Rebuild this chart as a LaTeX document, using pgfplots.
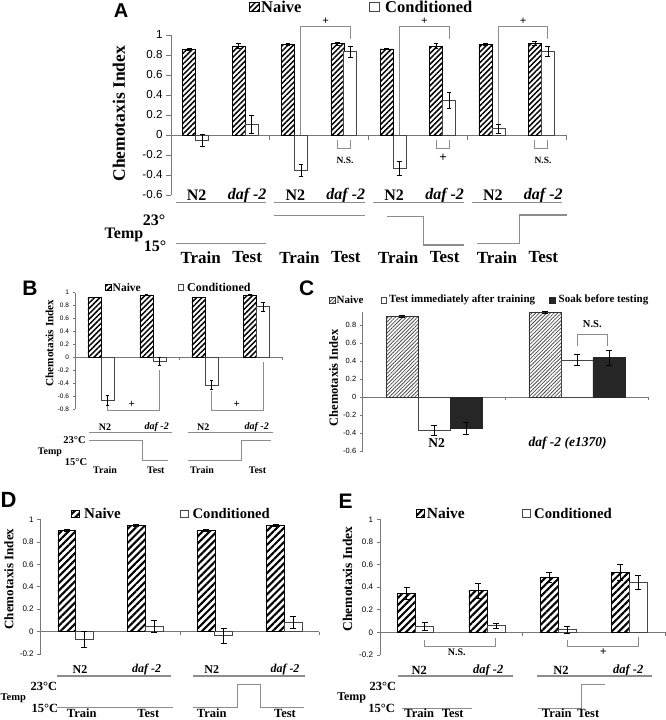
\documentclass[border=0pt]{standalone}
\usepackage{fontspec}
\setmainfont{Liberation Serif}
\setsansfont{Liberation Sans}
\usepackage{pgfplots}
\pgfplotsset{compat=1.18}
\usetikzlibrary{patterns.meta}
\definecolor{axgray}{RGB}{120,120,120}
\definecolor{lngray}{RGB}{140,140,140}
\definecolor{condline}{RGB}{70,70,70}
\definecolor{soakfill}{RGB}{38,38,38}
\newcommand{\fs}[1]{\fontsize{#1}{#1}\selectfont}
\tikzset{
 hA/.style={pattern={Lines[angle=45,distance=3.8pt,line width=1.5pt]},pattern color=black},
 hC/.style={pattern={Lines[angle=45,distance=2.6pt,line width=0.8pt]},pattern color=black!70},
 hD/.style={pattern={Lines[angle=45,distance=5pt,line width=2.1pt]},pattern color=black},
 ln/.style={lngray,line width=1.1pt},
 lab/.style={font=\bfseries\fs{#1}},
 ilab/.style={font=\bfseries\itshape\fs{#1}},
 let/.style={font=\sffamily\bfseries\fs{#1}},
}
\pgfplotsset{
 pan/.style={scale only axis, clip=false, enlargelimits=false,
   axis x line=none, axis y line=left,
   y axis line style={-, draw=axgray, line width=0.9pt},
   ytick style={draw=axgray, line width=0.8pt},
   tick align=outside, major tick length=#1,
   xmin=-0.5, xmax=3.5, xtick=\empty,
   /pgf/number format/assume math mode=true,
   /pgf/number format/fixed, /pgf/number format/precision=1},
 eb/.style={sharp plot, mark=none, draw opacity=0,
   error bars/y dir=both, error bars/y explicit,
   error bars/error bar style={black,draw opacity=1,line width=0.6pt},
   error bars/error mark options={rotate=90,black,draw opacity=1,line width=0.6pt,mark size=#1}},
}
\begin{document}
\begin{tikzpicture}
\useasboundingbox (0pt,0pt) rectangle (666pt,-720pt);

% ================= Panel A =================
\begin{axis}[pan=5pt, at={(171pt,-195pt)}, anchor=south west,
  width=395pt, height=160pt, xmin=-0.5, xmax=7.5, ymin=-0.6, ymax=1,
  ytick={-0.6,-0.4,-0.2,0,0.2,0.4,0.6,0.8,1},
  yticklabel style={font=\sffamily\fs{11.6}}]
\draw[axgray,line width=0.9pt] (axis cs:-0.5,0) -- (axis cs:7.5,0);
\pgfplotsinvokeforeach{1.5,3.5,5.5,7.5}{\draw[axgray,line width=0.8pt] (axis cs:#1,0) -- ++(0pt,-5pt);}
\addplot[ybar, bar width=13pt, bar shift=-6.5pt, draw=black, line width=0.6pt, hA]
 coordinates {(0,0.86) (1,0.89) (2,0.907) (3,0.913) (4,0.862) (5,0.89) (6,0.91) (7,0.915)};
\addplot[ybar, bar width=13pt, bar shift=6.5pt, draw=condline, line width=0.7pt, fill=white]
 coordinates {(0,-0.057) (1,0.11) (2,-0.35) (3,0.833) (4,-0.333) (5,0.35) (6,0.067) (7,0.833)};
\addplot[eb=2.4pt] coordinates {(-0.1316,0.86) +- (0,0.008) (0.8684,0.89) +- (0,0.025) (1.8684,0.907) +- (0,0.01) (2.8684,0.913) +- (0,0.018)
              (3.8684,0.862) +- (0,0.008) (4.8684,0.89) +- (0,0.025) (5.8684,0.91) +- (0,0.01) (6.8684,0.915) +- (0,0.018)};
\addplot[eb=2.4pt] coordinates {(0.1316,-0.057) +- (0,0.06) (1.1316,0.11) +- (0,0.088) (2.1316,-0.35) +- (0,0.062) (3.1316,0.833) +- (0,0.058)
              (4.1316,-0.333) +- (0,0.07) (5.1316,0.35) +- (0,0.082) (6.1316,0.067) +- (0,0.045) (7.1316,0.833) +- (0,0.05)};
\end{axis}

% ================= Panel B =================
\begin{axis}[pan=2.5pt, at={(75pt,-409.3pt)}, anchor=south west,
  width=207.7pt, height=116.8pt, ymin=-0.8, ymax=1,
  ytick={-0.8,-0.6,-0.4,-0.2,0,0.2,0.4,0.6,0.8,1},
  yticklabel style={font=\sffamily\fs{6.5}}]
\draw[axgray,line width=0.8pt] (axis cs:-0.5,0) -- (axis cs:3.5,0);
\pgfplotsinvokeforeach{1.5,3.5}{\draw[axgray,line width=0.7pt] (axis cs:#1,0) -- ++(0pt,-3pt);}
\addplot[ybar, bar width=13pt, bar shift=-6.5pt, draw=black, line width=0.5pt, hA]
 coordinates {(0,0.925) (1,0.962) (2,0.925) (3,0.962)};
\addplot[ybar, bar width=13pt, bar shift=6.5pt, draw=condline, line width=0.6pt, fill=white]
 coordinates {(0,-0.66) (1,-0.062) (2,-0.427) (3,0.78)};
\addplot[eb=1.8pt] coordinates {(-0.1252,0.925) +- (0,0.004) (0.8748,0.962) +- (0,0.004) (1.8748,0.925) +- (0,0.004) (2.8748,0.962) +- (0,0.004)};
\addplot[eb=1.8pt] coordinates {(0.1252,-0.66) +- (0,0.08) (1.1252,-0.062) +- (0,0.06) (2.1252,-0.427) +- (0,0.07) (3.1252,0.78) +- (0,0.07)};
\end{axis}

% ================= Panel C =================
\begin{axis}[pan=3pt, at={(362.7pt,-451pt)}, anchor=south west,
  width=285.6pt, height=139.5pt, xmin=-0.5, xmax=1.5, ymin=-0.6, ymax=0.95,
  ytick={-0.6,-0.4,-0.2,0,0.2,0.4,0.6,0.8},
  yticklabel style={font=\sffamily\fs{7.5}}]
\draw[axgray,line width=0.8pt] (axis cs:-0.5,0) -- (axis cs:1.5,0);
\pgfplotsinvokeforeach{0.5,1.5}{\draw[axgray,line width=0.7pt] (axis cs:#1,0) -- ++(0pt,-3pt);}
\addplot[ybar, bar width=32pt, bar shift=-32pt, draw=black!80, line width=0.6pt, hC]
 coordinates {(0,0.9) (1,0.937)};
\addplot[ybar, bar width=32pt, bar shift=0pt, draw=condline, line width=0.7pt, fill=white]
 coordinates {(0,-0.367) (1,0.411)};
\addplot[ybar, bar width=32pt, bar shift=32pt, draw=soakfill, line width=0.6pt, fill=soakfill]
 coordinates {(0,-0.348) (1,0.437)};
\addplot[eb=2.7pt] coordinates {(-0.2241,0.9) +- (0,0.01) (0.7759,0.937) +- (0,0.01)};
\addplot[eb=2.7pt] coordinates {(0,-0.367) +- (0,0.055) (1,0.411) +- (0,0.063)};
\addplot[eb=2.7pt] coordinates {(0.2241,-0.348) +- (0,0.065) (1.2241,0.437) +- (0,0.083)};
\end{axis}

% ================= Panel D =================
\begin{axis}[pan=3.5pt, at={(40.7pt,-654pt)}, anchor=south west,
  width=278.6pt, height=134.4pt, ymin=-0.2, ymax=1,
  ytick={-0.2,0,0.2,0.4,0.6,0.8,1},
  yticklabel style={font=\sffamily\fs{8}}]
\draw[axgray,line width=0.8pt] (axis cs:-0.5,0) -- (axis cs:3.5,0);
\pgfplotsinvokeforeach{1.5,3.5}{\draw[axgray,line width=0.7pt] (axis cs:#1,0) -- ++(0pt,-3.5pt);}
\addplot[ybar, bar width=17.7pt, bar shift=-8.85pt, draw=black, line width=0.6pt, hD]
 coordinates {(0,0.905) (1,0.95) (2,0.905) (3,0.95)};
\addplot[ybar, bar width=17.7pt, bar shift=8.85pt, draw=condline, line width=0.7pt, fill=white]
 coordinates {(0,-0.068) (1,0.05) (2,-0.033) (3,0.085)};
\addplot[eb=3pt] coordinates {(-0.1271,0.905) +- (0,0.008) (0.8729,0.95) +- (0,0.008) (1.8729,0.905) +- (0,0.008) (2.8729,0.95) +- (0,0.008)};
\addplot[eb=3pt] coordinates {(0.1271,-0.068) +- (0,0.074) (1.1271,0.05) +- (0,0.053) (2.1271,-0.033) +- (0,0.067) (3.1271,0.085) +- (0,0.052)};
\end{axis}

% ================= Panel E =================
\begin{axis}[pan=3.5pt, at={(380pt,-655pt)}, anchor=south west,
  width=285pt, height=135.6pt, ymin=-0.2, ymax=1,
  ytick={-0.2,0,0.2,0.4,0.6,0.8,1},
  yticklabel style={font=\sffamily\fs{8}}]
\draw[axgray,line width=0.8pt] (axis cs:-0.5,0) -- (axis cs:3.5,0);
\pgfplotsinvokeforeach{1.5,3.5}{\draw[axgray,line width=0.7pt] (axis cs:#1,0) -- ++(0pt,-3.5pt);}
\addplot[ybar, bar width=18pt, bar shift=-9pt, draw=black, line width=0.6pt, hD]
 coordinates {(0,0.346) (1,0.37) (2,0.487) (3,0.531)};
\addplot[ybar, bar width=18pt, bar shift=9pt, draw=condline, line width=0.7pt, fill=white]
 coordinates {(0,0.053) (1,0.059) (2,0.023) (3,0.443)};
\addplot[eb=3pt] coordinates {(-0.1263,0.346) +- (0,0.056) (0.8737,0.37) +- (0,0.066) (1.8737,0.487) +- (0,0.045) (2.8737,0.531) +- (0,0.069)};
\addplot[eb=3pt] coordinates {(0.1263,0.053) +- (0,0.033) (1.1263,0.059) +- (0,0.026) (2.1263,0.023) +- (0,0.03) (3.1263,0.443) +- (0,0.062)};
\end{axis}

% ================= Annotations (pixel coordinates) =================
\begin{scope}[x=1pt,y=-1pt]
% ---- A ----
\node[let=20] at (121,10.3) {A};
\draw[black,line width=0.5pt,hA] (249,2) rectangle (259,11.5);
\node[lab=16.5,anchor=west,inner sep=0] at (261,6.6) {Naive};
\draw[condline,line width=0.6pt,fill=white] (369,2) rectangle (379,11.5);
\node[lab=16.5,anchor=west,inner sep=0] at (385,6.6) {Conditioned};
\node[lab=17.5,rotate=90] at (118.8,113.8) {Chemotaxis Index};
% brackets
\draw[ln] (300.9,135) -- (300.9,26.5) -- (350.3,26.5) -- (350.3,39.3);
\draw[ln] (399.7,135) -- (399.7,26.5) -- (449.1,26.5) -- (449.1,39.3);
\draw[ln] (498.4,124) -- (498.4,26.5) -- (547.8,26.5) -- (547.8,39.3);
\node[lab=11.5,inner sep=0] at (325.6,21.3) {+};
\node[lab=11.5,inner sep=0] at (424.4,21.3) {+};
\node[lab=11.5,inner sep=0] at (523.1,21.3) {+};
\draw[ln] (337.3,140) -- (337.3,148.3) -- (350.3,148.3) -- (350.3,140);
\draw[ln] (436.1,140) -- (436.1,148.3) -- (449.1,148.3) -- (449.1,140);
\draw[ln] (534.8,140) -- (534.8,148.3) -- (547.8,148.3) -- (547.8,140);
\node[lab=9.5] at (345,160) {N.S.};
\node[lab=13] at (443,158) {+};
\node[lab=9.5] at (543,160) {N.S.};
% categories
\foreach \x in {196.7,295.4,394.2,492.9} \node[lab=16] at (\x,195.7) {N2};
\foreach \x in {247.1,345.8,444.6,543.3} \node[ilab=16] at (\x,195.7) {daf -2};
\draw[ln] (175.7,202.3) -- (266.1,202.3);
\draw[ln] (274.4,202.3) -- (364.8,202.3);
\draw[ln] (373.2,202.3) -- (463.6,202.3);
\draw[ln] (471.9,202.3) -- (562.3,202.3);
% temp
\draw[ln] (175.7,243.7) -- (266.1,243.7);
\draw[ln] (274.4,215.7) -- (364.8,215.7);
\draw[ln] (387,216.7) -- (423.2,216.7) -- (423.2,245) -- (463.6,245);
\draw[ln] (477.3,243.7) -- (519.9,243.7) -- (519.9,215) -- (567.3,215);
\node[lab=16] at (154,220) {23°};
\node[lab=16] at (124,235) {Temp};
\node[lab=16] at (155,246) {15°};
\foreach \x in {200.7,299.4,398.2,496.9} \node[lab=17] at (\x,257.3) {Train};
\foreach \x in {247.1,345.8,444.6,543.3} \node[lab=17] at (\x,257.3) {Test};

% ---- B ----
\node[let=21] at (30,288) {B};
\draw[black,line width=0.4pt,hA] (105.5,284.5) rectangle (111,290.2);
\node[lab=11.5,anchor=west,inner sep=0] at (112.5,287.5) {Naive};
\draw[condline,line width=0.5pt,fill=white] (178,284.5) rectangle (183.5,290.2);
\node[lab=12,anchor=west,inner sep=0] at (187,287.5) {Conditioned};
\node[lab=11.2,rotate=90] at (49.5,343) {Chemotaxis Index};
\draw[ln,line width=0.9pt] (107.5,406) -- (107.5,410) -- (159.4,410) -- (159.4,370);
\draw[ln,line width=0.9pt] (211.3,391) -- (211.3,410) -- (263.2,410) -- (263.2,361.7);
\node[lab=11] at (131.7,404) {+};
\node[lab=11] at (236.7,404) {+};
\node[lab=10] at (105,427.3) {N2};
\node[ilab=10] at (156.7,427.3) {daf -2};
\node[lab=10] at (203.3,427.3) {N2};
\node[ilab=10] at (256.7,427.3) {daf -2};
\draw[ln,line width=0.9pt] (89.3,432.7) -- (171.7,432.7);
\draw[ln,line width=0.9pt] (188.3,432.7) -- (272.7,432.7);
\draw[ln,line width=0.9pt] (89.3,440) -- (142.7,440) -- (142.7,460.7) -- (168.3,460.7);
\draw[ln,line width=0.9pt] (188.3,460.7) -- (241.7,460.7) -- (241.7,440) -- (270.7,440);
\node[lab=10.5] at (74.5,440) {23°C};
\node[lab=10] at (50,452.7) {Temp};
\node[lab=10.5] at (76,461.7) {15°C};
\node[lab=10] at (105,470) {Train};
\node[lab=10] at (155.8,470) {Test};
\node[lab=10] at (202,470) {Train};
\node[lab=10] at (257.5,470) {Test};

% ---- C ----
\node[let=21] at (306.7,288.3) {C};
\draw[black!80,line width=0.4pt,hC] (329.5,297.3) rectangle (335,302.8);
\node[lab=11,anchor=west,inner sep=0] at (336.5,300) {Naive};
\draw[condline,line width=0.5pt,fill=white] (381,297.3) rectangle (386.5,302.8);
\node[lab=11,anchor=west,inner sep=0] at (389,300) {Test immediately after training};
\draw[soakfill,fill=soakfill] (549.3,297.3) rectangle (554.8,302.8);
\node[lab=11,anchor=west,inner sep=0] at (558.5,300) {Soak before testing};
\node[lab=12.5,rotate=90] at (333.5,378) {Chemotaxis Index};
\draw[ln,line width=0.9pt] (577.3,346) -- (577.3,334.3) -- (607.3,334.3) -- (607.3,346);
\node[lab=10.5] at (592.3,324.3) {N.S.};
\node[lab=13.5] at (436.7,443.3) {N2};
\node[ilab=13.5] at (567.5,443.3) {daf -2 (e1370)};

% ---- D ----
\node[let=22] at (8.5,500) {D};
\draw[black,line width=0.5pt,hD] (71.5,510) rectangle (79,517.5);
\node[lab=15,anchor=west,inner sep=0] at (84,513.8) {Naive};
\draw[condline,line width=0.6pt,fill=white] (180.5,510) rectangle (188,517.5);
\node[lab=14.6,anchor=west,inner sep=0] at (192.5,513.8) {Conditioned};
\node[lab=13,rotate=90] at (9,579) {Chemotaxis Index};
\node[lab=12] at (80,669.3) {N2};
\node[ilab=12] at (146.7,669.3) {daf -2};
\node[lab=12] at (211.7,669.3) {N2};
\node[ilab=12] at (285,669.3) {daf -2};
\draw[ln] (57.3,676) -- (170.7,676);
\draw[ln] (192.7,676) -- (305,676);
\draw[ln] (57.3,707.7) -- (172.7,707.7);
\draw[ln] (192.7,707.7) -- (237.3,707.7) -- (237.3,684.3) -- (260.7,684.3) -- (260.7,707.7) -- (304,707.7);
\node[lab=12.5] at (44,686) {23°C};
\node[lab=10.5,anchor=west,inner sep=0] at (0.5,698.3) {Temp};
\node[lab=12.5] at (45,708.5) {15°C};
\node[lab=12.5] at (81.7,713) {Train};
\node[lab=12.5] at (148.3,713) {Test};
\node[lab=12.5] at (211.7,713) {Train};
\node[lab=12.5] at (285,713) {Test};

% ---- E ----
\node[let=21] at (345.5,501) {E};
\draw[black,line width=0.5pt,hD] (416,509.3) rectangle (424,517.3);
\node[lab=15.5,anchor=west,inner sep=0] at (426.7,513.3) {Naive};
\draw[condline,line width=0.6pt,fill=white] (522.3,509.3) rectangle (530,517.3);
\node[lab=14.7,anchor=west,inner sep=0] at (534,513.3) {Conditioned};
\node[lab=13.5,rotate=90] at (347.5,579) {Chemotaxis Index};
\draw[ln] (424.6,640) -- (424.6,646.7) -- (495.9,646.7) -- (495.9,638);
\draw[ln] (567.1,640) -- (567.1,646.7) -- (638.4,646.7) -- (638.4,636.7);
\node[lab=10] at (456.7,652.7) {N.S.};
\node[lab=12] at (603.3,651.7) {+};
\node[lab=12.5] at (419.3,670) {N2};
\node[ilab=12.5] at (488.3,670) {daf -2};
\node[lab=12.5] at (561,670) {N2};
\node[ilab=12.5] at (628.3,670) {daf -2};
\draw[ln] (398.3,676) -- (513.3,676);
\draw[ln] (536.7,676) -- (651.7,676);
\draw[ln] (401.7,708.3) -- (471.7,708.3);
\draw[ln] (538.3,708.3) -- (581.7,708.3) -- (581.7,684.3) -- (605,684.3);
\node[lab=12.5] at (383,686) {23°C};
\node[lab=12] at (351.7,698.3) {Temp};
\node[lab=12.5] at (381.7,708.5) {15°C};
\node[lab=12.5] at (419.3,713) {Train};
\node[lab=12.5] at (452.7,713) {Test};
\node[lab=12.5] at (556.7,713) {Train};
\node[lab=12.5] at (588.3,713) {Test};
\end{scope}
\end{tikzpicture}
\end{document}
